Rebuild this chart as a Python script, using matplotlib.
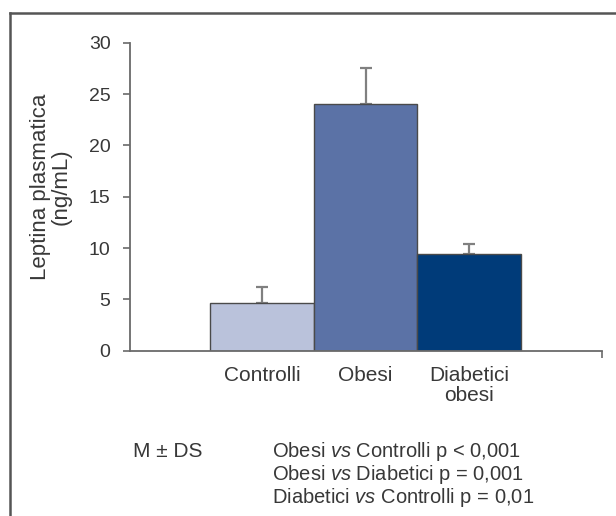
import matplotlib
matplotlib.use("Agg")
import matplotlib.pyplot as plt
from matplotlib.lines import Line2D

plt.rcParams['font.family'] = ['Liberation Sans', 'DejaVu Sans']
plt.rcParams['mathtext.fontset'] = 'custom'
plt.rcParams['mathtext.rm'] = 'Liberation Sans'
plt.rcParams['mathtext.it'] = 'Liberation Sans:italic'

# Data
categories = ["Controlli", "Obesi", "Diabetici\nobesi"]
means = [4.6, 24.0, 9.45]
sd_upper = [1.6, 3.5, 0.95]
bar_colors = ["#BAC2DB", "#5B72A6", "#003B79"]
y_ticks = [0, 5, 10, 15, 20, 25, 30]
y_label = "Leptina plasmatica\n(ng/mL)"
note_left = "M ± DS"
note_lines = [
    "Obesi $\\mathit{vs}$ Controlli p < 0,001",
    "Obesi $\\mathit{vs}$ Diabetici p = 0,001",
    "Diabetici $\\mathit{vs}$ Controlli p = 0,01",
]

W, H = 616, 516
fig = plt.figure(figsize=(W / 100, H / 100), dpi=100)
fig.patch.set_facecolor("white")

ax_left, ax_right = 130 / W, 602 / W
ax_bottom, ax_top = 1 - 350.7 / H, 1 - 42.7 / H
ax = fig.add_axes([ax_left, ax_bottom, ax_right - ax_left, ax_top - ax_bottom])

text_color = "#383838"
axis_color = "#6a6a6a"

x = list(range(len(categories)))
ax.bar(x, means, width=1.0, color=bar_colors, edgecolor="#4a4a4a", linewidth=1.0, zorder=2)
ax.errorbar(x, means, yerr=[[0] * len(means), sd_upper], fmt="none",
            ecolor="#808080", elinewidth=1.6, capsize=4, capthick=1.6, zorder=1)

xlim = (-1.278, 3.287)
ax.set_xlim(*xlim)
ax.set_ylim(0, 30)
ax.set_yticks(y_ticks)
ax.set_yticklabels([str(v) for v in y_ticks])
ax.set_xticks(x)
ax.set_xticklabels(categories, linespacing=1.1)
ax.set_xticks([xlim[1]], minor=True)

for s in ["top", "right"]:
    ax.spines[s].set_visible(False)
for s in ["left", "bottom"]:
    ax.spines[s].set_color(axis_color)
    ax.spines[s].set_linewidth(1.3)

ax.tick_params(axis="y", direction="out", length=5, width=1.2, color=axis_color,
               labelsize=14, labelcolor=text_color, pad=9)
ax.tick_params(axis="x", which="major", length=0, labelsize=15, labelcolor=text_color, pad=11)
ax.tick_params(axis="x", which="minor", direction="out", length=5, width=1.2, color=axis_color)

fig.text(51 / W, 1 - 187 / H, y_label, rotation=90, ha="center", va="center",
         fontsize=16, color=text_color, linespacing=1.0, multialignment="center")

fig.text(133 / W, 1 - 457 / H, note_left, ha="left", va="baseline", fontsize=15, color=text_color)
baselines = [457, 480, 503]
for line, b in zip(note_lines, baselines):
    fig.text(272 / W, 1 - b / H, line, ha="left", va="baseline", fontsize=14.5, color=text_color)

# Frame lines (left and top)
fig.add_artist(Line2D([9.5 / W, 9.5 / W], [0, 1 - 13 / H], transform=fig.transFigure,
                      color="#555555", linewidth=1.8))
fig.add_artist(Line2D([9.5 / W, 1], [1 - 13 / H, 1 - 13 / H], transform=fig.transFigure,
                      color="#555555", linewidth=1.8))

fig.savefig("out.png", dpi=100, facecolor="white")
